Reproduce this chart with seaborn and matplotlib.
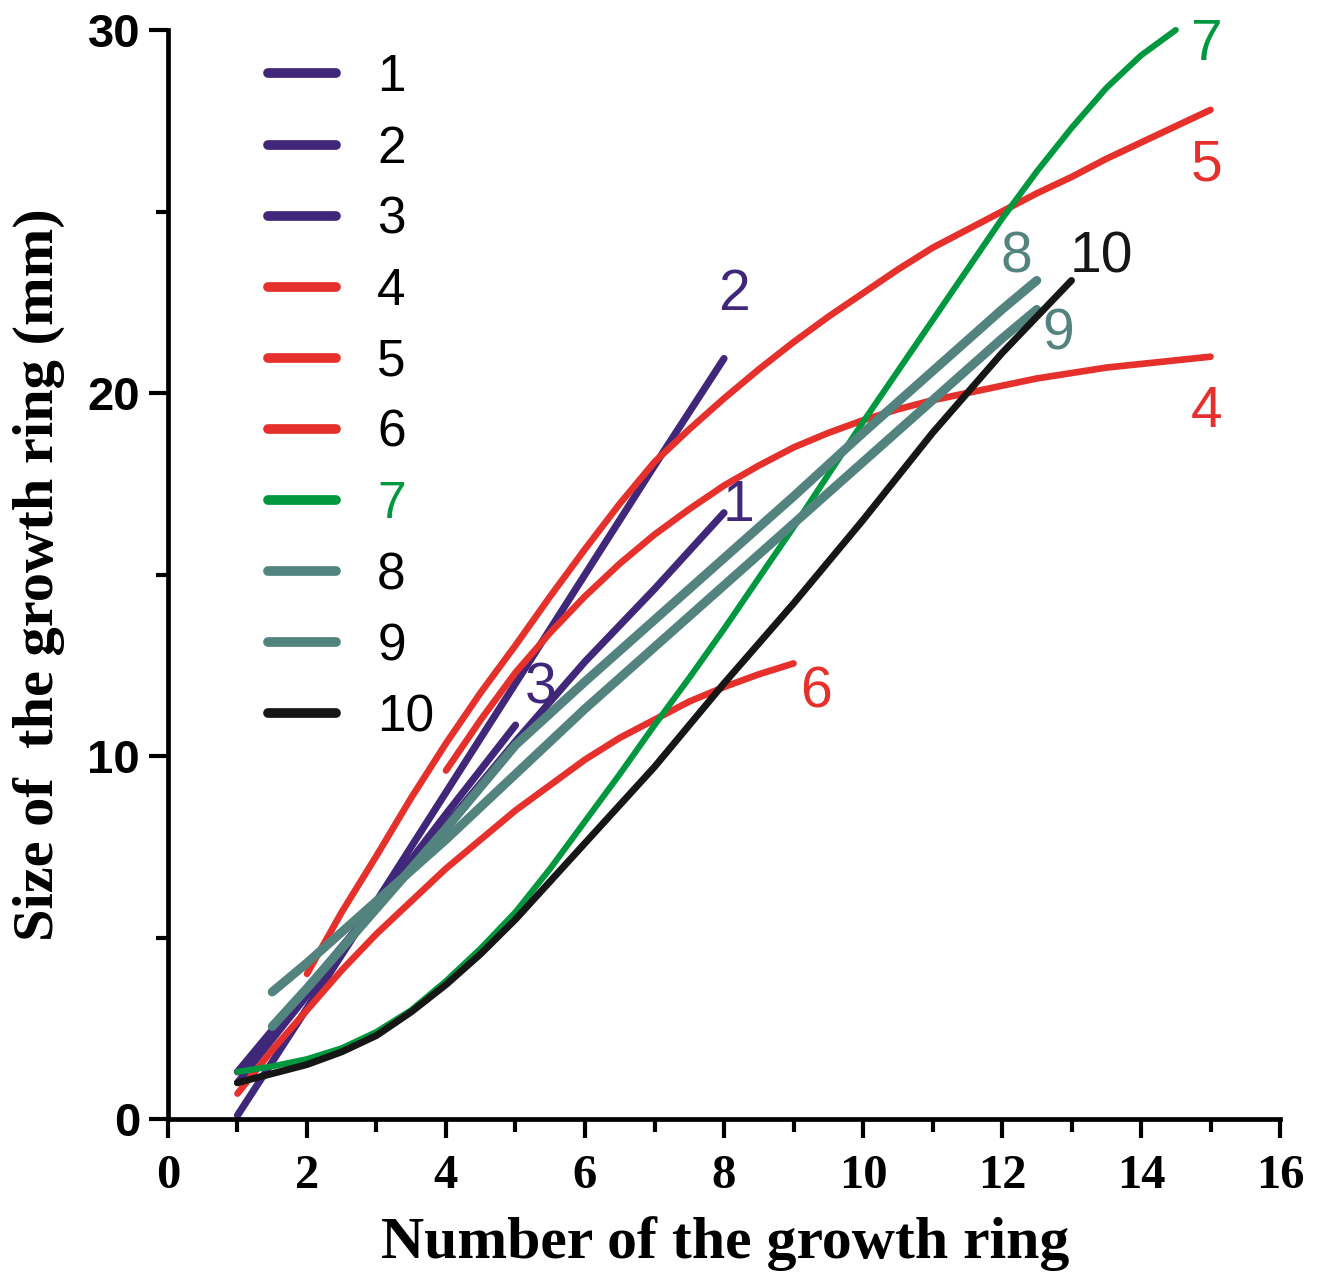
import matplotlib
matplotlib.use("Agg")
import matplotlib.pyplot as plt
from matplotlib.lines import Line2D
from matplotlib.ticker import MultipleLocator
import pandas as pd
import seaborn as sns

# values (ring number -> size in mm)
ring_1 = [1, 2, 3, 4, 5, 6, 7, 8]
size_1 = [1.3, 3.6, 5.9, 8.1, 10.4, 12.6, 14.6, 16.7]
ring_2 = [1, 2, 3, 4, 5, 6, 7, 8]
size_2 = [0.1, 3.05, 6.0, 9.0, 12.0, 15.0, 18.0, 20.95]
ring_3 = [1, 2, 3, 4, 5]
size_3 = [1.0, 3.4, 5.9, 8.4, 10.85]
ring_4 = [4, 4.5, 5, 5.5, 6, 6.5, 7, 7.5, 8, 8.5, 9, 9.5, 10, 10.5, 11, 11.5,
          12, 12.5, 13, 13.5, 14, 14.5, 15]
size_4 = [9.6, 11.0, 12.3, 13.4, 14.4, 15.3, 16.1, 16.8, 17.45, 18.0, 18.5, 18.9,
          19.25, 19.55, 19.8, 20.0, 20.2, 20.4, 20.55, 20.7, 20.8, 20.9, 21.0]
ring_5 = [2, 2.5, 3, 3.5, 4, 4.5, 5, 5.5, 6, 6.5, 7, 7.5, 8, 8.5, 9, 9.5, 10,
          10.5, 11, 11.5, 12, 12.5, 13, 13.5, 14, 14.5, 15]
size_5 = [4.0, 5.7, 7.25, 8.85, 10.35, 11.75, 13.05, 14.4, 15.7, 16.95, 18.1, 19.0,
          19.85, 20.65, 21.4, 22.1, 22.75, 23.4, 24.0, 24.5, 25.0, 25.5, 25.95,
          26.45, 26.9, 27.35, 27.8]
ring_6 = [1, 1.5, 2, 2.5, 3, 3.5, 4, 4.5, 5, 5.5, 6, 6.5, 7, 7.5, 8, 8.5, 9]
size_6 = [0.7, 1.9, 3.0, 4.1, 5.1, 6.0, 6.9, 7.7, 8.5, 9.2, 9.9, 10.5, 11.0, 11.5,
          11.9, 12.25, 12.55]
ring_7 = [1, 1.5, 2, 2.5, 3, 3.5, 4, 4.5, 5, 5.5, 6, 6.5, 7, 7.5, 8, 8.5, 9, 9.5,
          10, 10.5, 11, 11.5, 12, 12.5, 13, 13.5, 14, 14.5]
size_7 = [1.3, 1.45, 1.65, 1.95, 2.4, 3.0, 3.8, 4.7, 5.7, 6.9, 8.2, 9.5, 10.85,
          12.15, 13.5, 14.9, 16.3, 17.75, 19.2, 20.6, 22.0, 23.4, 24.8, 26.1, 27.3,
          28.4, 29.3, 30.0]
ring_8 = [1.5, 2, 2.5, 3, 4, 5, 6, 7, 8, 9, 10, 11, 12, 12.5]
size_8 = [2.55, 3.6, 4.7, 5.8, 8.0, 10.3, 12.05, 13.75, 15.45, 17.15, 18.9, 20.6,
          22.3, 23.1]
ring_9 = [1.5, 2, 3, 4, 5, 6, 7, 8, 9, 10, 11, 12, 12.5]
size_9 = [3.5, 4.3, 6.0, 7.7, 9.5, 11.3, 13.0, 14.7, 16.4, 18.1, 19.8, 21.5, 22.3]
ring_10 = [1, 1.5, 2, 2.5, 3, 3.5, 4, 4.5, 5, 5.5, 6, 6.5, 7, 7.5, 8, 8.5, 9, 9.5,
           10, 10.5, 11, 11.5, 12, 12.5, 13]
size_10 = [1.0, 1.25, 1.5, 1.85, 2.3, 2.95, 3.7, 4.55, 5.5, 6.55, 7.6, 8.65, 9.7,
           10.85, 12.0, 13.1, 14.2, 15.35, 16.5, 17.7, 18.9, 20.0, 21.1, 22.1, 23.1]

curve_names = ["1", "2", "3", "4", "5", "6", "7", "8", "9", "10"]
rings = [ring_1, ring_2, ring_3, ring_4, ring_5, ring_6, ring_7, ring_8, ring_9, ring_10]
sizes = [size_1, size_2, size_3, size_4, size_5, size_6, size_7, size_8, size_9, size_10]

# label positions next to curve ends (data units)
label_x = [8.21, 8.14, 5.36, 14.94, 14.94, 9.32, 14.94, 12.2, 12.81, 13.43]
label_y = [16.9, 22.7, 11.87, 19.48, 26.28, 11.74, 29.6, 23.72, 21.6, 23.72]

purple = "#40277a"
red = "#e6302b"
green = "#00983f"
teal = "#52837e"
black = "#161616"
colors = [purple, purple, purple, red, red, red, green, teal, teal, black]
widths = [5.2, 5.2, 5.2, 4.8, 4.8, 4.8, 4.4, 6.5, 6.5, 5.0]

df = pd.concat(
    [pd.DataFrame({"ring": r, "size": s, "curve": n}) for r, s, n in zip(rings, sizes, curve_names)],
    ignore_index=True,
)

sns.set_style("ticks")
plt.rcParams["font.family"] = ["Liberation Sans", "DejaVu Sans"]
plt.rcParams["text.color"] = "black"
plt.rcParams["axes.labelcolor"] = "black"
plt.rcParams["xtick.color"] = "black"
plt.rcParams["ytick.color"] = "black"

fig = plt.figure(figsize=(13.17, 12.8), dpi=100)
ax = fig.add_axes([0.12756, 0.12578, 0.84435, 0.85078])

for name, c, w in zip(curve_names, colors, widths):
    sns.lineplot(
        data=df[df["curve"] == name], x="ring", y="size",
        color=c, lw=w, ax=ax, solid_capstyle="round", solid_joinstyle="round",
        clip_on=False,
    )

for name, c, lx, ly in zip(curve_names, colors, label_x, label_y):
    ax.text(lx, ly, name, color=c, fontsize=41, ha="center", va="center")

ax.set_xlim(0, 16)
ax.set_ylim(0, 30)
ax.xaxis.set_major_locator(MultipleLocator(2))
ax.xaxis.set_minor_locator(MultipleLocator(1))
ax.yaxis.set_major_locator(MultipleLocator(10))
ax.yaxis.set_minor_locator(MultipleLocator(5))

sns.despine(ax=ax)
for sp in ["left", "bottom"]:
    ax.spines[sp].set_linewidth(3.4)
    ax.spines[sp].set_color("black")

ax.tick_params(which="major", length=14, width=3, color="black", direction="out")
ax.tick_params(which="minor", length=9, width=3, color="black", direction="out")
ax.tick_params(axis="x", which="major", pad=11)
ax.tick_params(axis="y", which="major", pad=6)

for t in ax.get_xticklabels():
    t.set_fontfamily("Liberation Serif")
    t.set_fontweight("bold")
    t.set_fontsize(35)
for t in ax.get_yticklabels():
    t.set_fontfamily("Liberation Sans")
    t.set_fontweight("bold")
    t.set_fontsize(34)

ax.set_xlabel("Number of the growth ring", fontfamily="Liberation Serif",
              fontweight="bold", fontsize=43)
ax.set_ylabel("Size of  the growth ring (mm)", fontfamily="Liberation Serif",
              fontweight="bold", fontsize=42)
ax.xaxis.set_label_coords(0.501, -0.089)
ax.yaxis.set_label_coords(-0.093, 0.5)

handles = [Line2D([0], [0], color=c, lw=7) for c in colors]
leg = ax.legend(
    handles, curve_names, loc="upper left", bbox_to_anchor=(0.0901, 0.9785),
    frameon=False, fontsize=37, handlelength=1.32, handletextpad=0.8,
    labelspacing=0.43, borderpad=0, borderaxespad=0,
)
leg.get_texts()[6].set_color(green)

fig.savefig("out.png", dpi=100, facecolor="white")
